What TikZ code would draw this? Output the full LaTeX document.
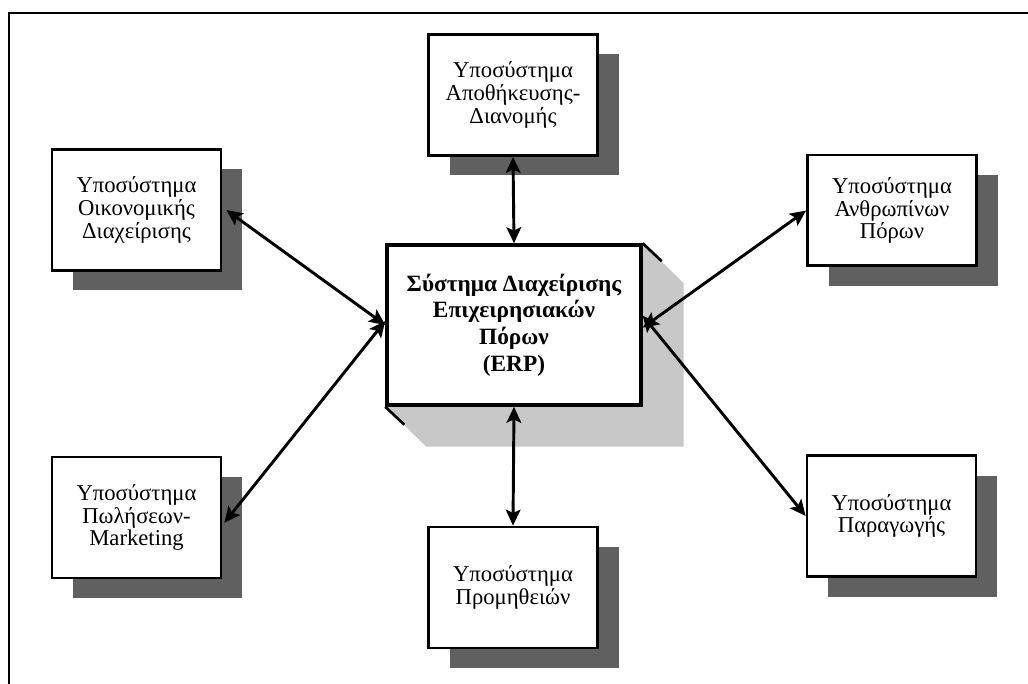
\documentclass[tikz,border=0pt]{standalone}
\usepackage{fontspec}
\setmainfont{Liberation Serif}
\usepackage{tikz}
\usetikzlibrary{arrows.meta, shadows, backgrounds}
\definecolor{shadowgray}{RGB}{96,96,96}
\definecolor{bevelgray}{RGB}{200,200,200}

\tikzset{
  subsys/.style={draw, line width=2pt, fill=white, align=center, inner sep=0pt,
    minimum width=126.75pt, minimum height=90.75pt,
    font=\fontsize{17}{17}\selectfont,
    drop shadow={shadow xshift=15.75pt, shadow yshift=-15pt, opacity=1, fill=shadowgray}},
  erpbox/.style={draw, line width=2.6pt, fill=white, align=center, inner sep=0pt,
    minimum width=190.5pt, minimum height=120pt,
    font=\fontsize{17.5}{20}\selectfont\bfseries},
  biarrow/.style={line width=2.2pt, {Stealth[length=12pt,width=11pt,inset=2.5pt]}-{Stealth[length=12pt,width=11pt,inset=2.5pt]}}
}

\begin{document}
\begin{tikzpicture}[x=0.75pt,y=0.75pt,yscale=-1,xscale=1]
\useasboundingbox (0,0) rectangle (1028,684);

%Frame: top and left edges only
\draw [line width=1.8pt] (9,684) -- (9,13) -- (1028,13) ;

%Central system
\node [erpbox] (erp) at (514,325) {Σύστημα Διαχείρισης\\Επιχειρησιακών\\Πόρων\\(ERP)};
\begin{scope}[on background layer]
\fill [bevelgray] (erp.north east) -- ([shift={(41,40)}]erp.north east) -- ([shift={(41,40)}]erp.south east) -- ([shift={(41,40)}]erp.south west) -- (erp.south west) -- cycle ;
\end{scope}
\draw [line width=2pt] (erp.north east) -- ([shift={(19,18)}]erp.north east) ;
\draw [line width=2pt] (erp.south west) -- ([shift={(19,18)}]erp.south west) ;

%Subsystems
\node [subsys] (apo) at (513,95) {Υποσύστημα\\Αποθήκευσης-\\Διανομής};
\node [subsys] (oik) at (136.5,210) {Υποσύστημα\\Οικονομικής\\Διαχείρισης};
\node [subsys, minimum height=83pt] (anth) at (892,210.5) {Υποσύστημα\\Ανθρωπίνων\\Πόρων};
\node [subsys] (par) at (891.5,516) {Υποσύστημα\\Παραγωγής};
\node [subsys] (prom) at (513,587.5) {Υποσύστημα\\Προμηθειών};
\node [subsys] (pol) at (136.5,517.5) {Υποσύστημα\\Πωλήσεων-\\Marketing};

%Connectors
\draw [biarrow] (apo.south) -- (erp.north) ;
\draw [biarrow] (erp.south) -- (prom.north) ;
\draw [biarrow] ([xshift=3pt]oik.east) -- (erp.west) ;
\draw [biarrow] ([xshift=1.5pt,yshift=4pt]pol.east) -- ([yshift=-3pt]erp.west) ;
\draw [biarrow] (anth.west) -- ([yshift=2pt]erp.east) ;
\draw [biarrow] (par.west) -- ([yshift=-7pt]erp.east) ;

\end{tikzpicture}
\end{document}
